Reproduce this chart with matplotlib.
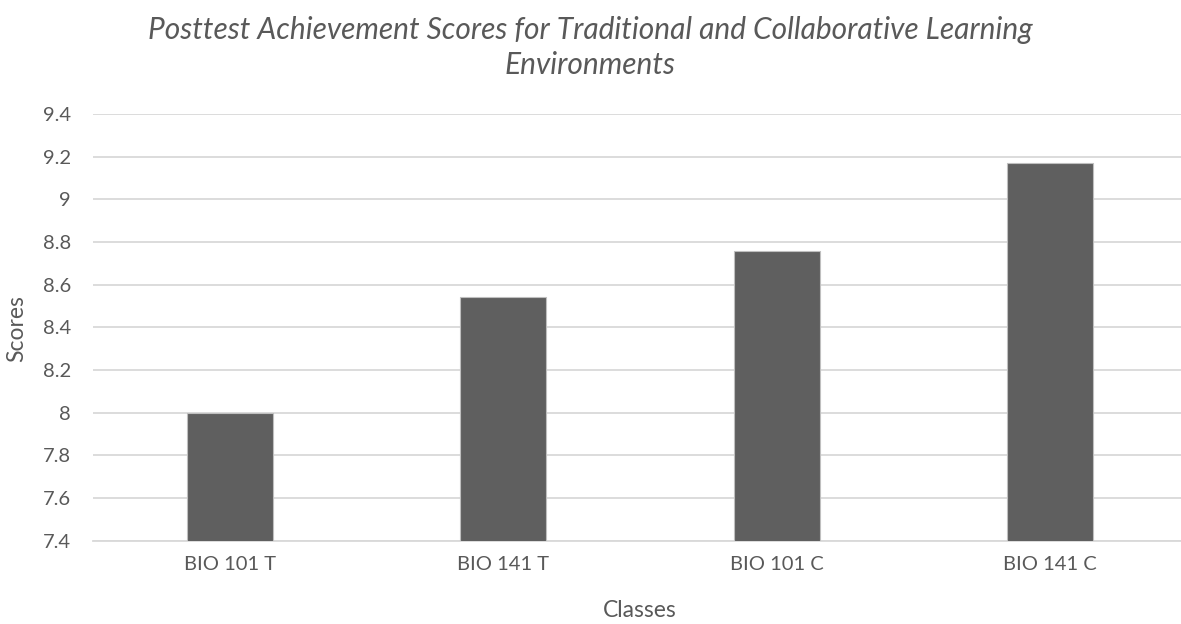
import matplotlib
matplotlib.use("Agg")
import matplotlib.pyplot as plt

# chart data
classes = ['BIO 101 T', 'BIO 141 T', 'BIO 101 C', 'BIO 141 C']
scores = [8.0, 8.54, 8.76, 9.17]
y_ticks = [7.4, 7.6, 7.8, 8.0, 8.2, 8.4, 8.6, 8.8, 9.0, 9.2, 9.4]
y_tick_labels = ['7.4', '7.6', '7.8', '8', '8.2', '8.4', '8.6', '8.8', '9', '9.2', '9.4']

TEXT = '#595959'
plt.rcParams['font.family'] = ['Lato', 'DejaVu Sans']

fig = plt.figure(figsize=(11.81, 6.24), dpi=100)
# plot area runs past the right edge, like the original crop
ax = fig.add_axes([0.079, 0.1335, 0.926, 0.6838])

x = range(len(classes))
ax.bar(x, scores, width=0.315, bottom=0, color='#5f5f5f',
       edgecolor='#bfbfbf', linewidth=0.8, zorder=3)

ax.set_ylim(7.4, 9.4)
ax.set_xlim(-0.5, len(classes) - 0.5)
ax.set_yticks(y_ticks)
ax.set_yticklabels(y_tick_labels)
ax.set_xticks(list(x))
ax.set_xticklabels(classes)
ax.tick_params(axis='y', length=0, pad=16, labelsize=14.5, labelcolor=TEXT)
ax.tick_params(axis='x', length=0, pad=11, labelsize=14.5, labelcolor=TEXT)

ax.grid(axis='y', color='#d9d9d9', linewidth=1.3, zorder=0)
for s in ['top', 'right', 'left']:
    ax.spines[s].set_visible(False)
ax.spines['bottom'].set_color('#d9d9d9')
ax.spines['bottom'].set_linewidth(1.3)

fig.text(0.0145, 0.474, 'Scores', rotation=90, ha='center', va='center',
         fontsize=16.5, color=TEXT)
fig.text(0.542, 0.022, 'Classes', ha='center', va='center',
         fontsize=16.5, color=TEXT)
fig.text(0.5, 0.924, 'Posttest Achievement Scores for Traditional and Collaborative Learning\nEnvironments',
         ha='center', va='center', fontsize=21.5, style='italic',
         color=TEXT, linespacing=1.33)

fig.savefig('out.png', dpi=100)
